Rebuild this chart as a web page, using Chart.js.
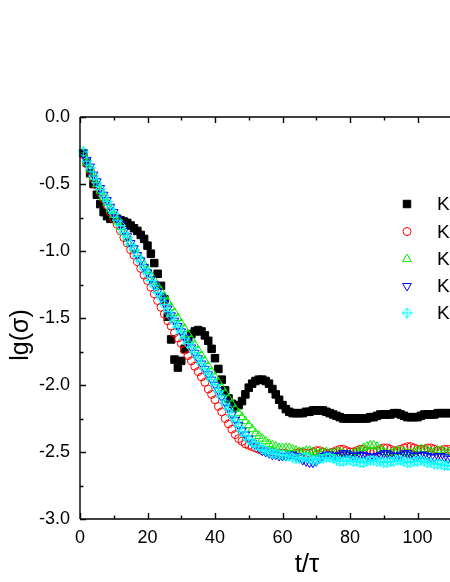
<!DOCTYPE html>
<html><head><meta charset="utf-8">
<script src="https://cdn.jsdelivr.net/npm/chart.js@4.4.0/dist/chart.umd.min.js"></script>
<style>
html,body{margin:0;padding:0;background:#fff;overflow:hidden;}
#wrap{width:450px;height:582px;overflow:hidden;position:relative;background:#fff;}
canvas{display:block;}
</style>
</head><body>
<div id="wrap"><canvas id="c" width="520" height="582" style="width:520px;height:582px"></canvas></div>
<script>
// ---- data ----
const tValues = [
 1,2,3,4,5,6,7,8,9,10,
 11,12,13,14,15,16,17,18,19,20,
 21,22,23,24,25,26,27,28,29,30,
 31,32,33,34,35,36,37,38,39,40,
 41,42,43,44,45,46,47,48,49,50,
 51,52,53,54,55,56,57,58,59,60,
 61,62,63,64,65,66,67,68,69,70,
 71,72,73,74,75,76,77,78,79,80,
 81,82,83,84,85,86,87,88,89,90,
 91,92,93,94,95,96,97,98,99,100,
 101,102,103,104,105,106,107,108,109,110];

const seriesBlack = [
 -0.27,-0.34,-0.42,-0.50,-0.58,-0.65,-0.71,-0.74,-0.76,-0.76,
 -0.76,-0.77,-0.78,-0.79,-0.81,-0.83,-0.85,-0.88,-0.91,-0.96,
 -1.02,-1.09,-1.17,-1.26,-1.36,-1.49,-1.66,-1.81,-1.87,-1.82,
 -1.73,-1.66,-1.62,-1.60,-1.59,-1.60,-1.63,-1.67,-1.73,-1.80,
 -1.88,-1.96,-2.04,-2.10,-2.14,-2.16,-2.15,-2.12,-2.07,-2.02,
 -1.99,-1.97,-1.96,-1.96,-1.97,-1.99,-2.03,-2.07,-2.11,-2.15,
 -2.18,-2.20,-2.21,-2.21,-2.21,-2.21,-2.20,-2.20,-2.19,-2.19,
 -2.19,-2.19,-2.20,-2.21,-2.22,-2.23,-2.24,-2.25,-2.25,-2.25,
 -2.25,-2.25,-2.25,-2.25,-2.25,-2.24,-2.24,-2.23,-2.22,-2.22,
 -2.22,-2.22,-2.21,-2.21,-2.22,-2.23,-2.24,-2.24,-2.24,-2.24,
 -2.23,-2.22,-2.22,-2.22,-2.22,-2.21,-2.21,-2.21,-2.21,-2.21];

const seriesRed = [
 -0.28,-0.35,-0.40,-0.46,-0.51,-0.56,-0.61,-0.66,-0.71,-0.76,
 -0.80,-0.85,-0.90,-0.94,-0.99,-1.03,-1.08,-1.13,-1.18,-1.22,
 -1.27,-1.32,-1.37,-1.42,-1.47,-1.52,-1.56,-1.61,-1.65,-1.69,
 -1.74,-1.78,-1.82,-1.86,-1.90,-1.94,-1.98,-2.03,-2.07,-2.11,
 -2.16,-2.20,-2.25,-2.29,-2.33,-2.37,-2.40,-2.42,-2.44,-2.45,
 -2.46,-2.47,-2.48,-2.49,-2.49,-2.50,-2.50,-2.51,-2.51,-2.51,
 -2.51,-2.52,-2.52,-2.51,-2.50,-2.50,-2.51,-2.51,-2.50,-2.49,
 -2.49,-2.50,-2.51,-2.51,-2.50,-2.49,-2.48,-2.48,-2.49,-2.50,
 -2.50,-2.49,-2.48,-2.48,-2.49,-2.50,-2.50,-2.49,-2.48,-2.47,
 -2.47,-2.48,-2.49,-2.49,-2.48,-2.47,-2.46,-2.46,-2.47,-2.48,
 -2.48,-2.48,-2.47,-2.47,-2.48,-2.49,-2.49,-2.48,-2.48,-2.49];

const seriesGreen = [
 -0.27,-0.34,-0.39,-0.45,-0.50,-0.55,-0.60,-0.64,-0.69,-0.73,
 -0.78,-0.82,-0.86,-0.90,-0.94,-0.98,-1.02,-1.06,-1.10,-1.14,
 -1.18,-1.22,-1.26,-1.30,-1.34,-1.38,-1.42,-1.46,-1.50,-1.54,
 -1.58,-1.62,-1.66,-1.70,-1.74,-1.78,-1.82,-1.86,-1.90,-1.94,
 -1.98,-2.02,-2.06,-2.10,-2.14,-2.18,-2.21,-2.24,-2.27,-2.30,
 -2.33,-2.36,-2.38,-2.40,-2.42,-2.44,-2.45,-2.46,-2.47,-2.47,
 -2.47,-2.47,-2.48,-2.49,-2.50,-2.50,-2.49,-2.49,-2.50,-2.51,
 -2.51,-2.50,-2.50,-2.51,-2.51,-2.50,-2.50,-2.51,-2.52,-2.52,
 -2.51,-2.50,-2.49,-2.47,-2.46,-2.45,-2.45,-2.46,-2.48,-2.50,
 -2.51,-2.51,-2.50,-2.49,-2.49,-2.50,-2.51,-2.51,-2.50,-2.49,
 -2.48,-2.48,-2.49,-2.50,-2.50,-2.49,-2.49,-2.50,-2.50,-2.50];

const seriesBlue = [
 -0.27,-0.32,-0.37,-0.43,-0.48,-0.53,-0.58,-0.62,-0.67,-0.71,
 -0.76,-0.80,-0.85,-0.89,-0.94,-0.98,-1.03,-1.07,-1.12,-1.16,
 -1.21,-1.25,-1.30,-1.34,-1.39,-1.43,-1.48,-1.52,-1.56,-1.60,
 -1.64,-1.68,-1.72,-1.76,-1.80,-1.84,-1.88,-1.92,-1.96,-2.00,
 -2.04,-2.09,-2.13,-2.17,-2.22,-2.26,-2.30,-2.34,-2.37,-2.40,
 -2.43,-2.45,-2.47,-2.49,-2.50,-2.51,-2.52,-2.52,-2.53,-2.53,
 -2.53,-2.52,-2.52,-2.53,-2.54,-2.56,-2.57,-2.58,-2.58,-2.57,
 -2.55,-2.53,-2.52,-2.52,-2.53,-2.53,-2.52,-2.51,-2.51,-2.52,
 -2.53,-2.53,-2.52,-2.52,-2.53,-2.54,-2.54,-2.53,-2.52,-2.51,
 -2.51,-2.52,-2.53,-2.53,-2.52,-2.51,-2.51,-2.52,-2.53,-2.53,
 -2.52,-2.52,-2.53,-2.54,-2.54,-2.53,-2.53,-2.54,-2.55,-2.55];

const seriesCyan = [
 -0.26,-0.33,-0.38,-0.44,-0.49,-0.54,-0.59,-0.63,-0.68,-0.72,
 -0.77,-0.81,-0.86,-0.90,-0.95,-0.99,-1.04,-1.08,-1.13,-1.17,
 -1.22,-1.26,-1.31,-1.35,-1.40,-1.45,-1.49,-1.53,-1.57,-1.61,
 -1.65,-1.69,-1.72,-1.76,-1.80,-1.84,-1.88,-1.92,-1.96,-2.00,
 -2.05,-2.09,-2.14,-2.18,-2.23,-2.27,-2.31,-2.35,-2.38,-2.41,
 -2.43,-2.45,-2.46,-2.48,-2.49,-2.50,-2.51,-2.51,-2.52,-2.52,
 -2.53,-2.53,-2.54,-2.55,-2.55,-2.54,-2.54,-2.55,-2.56,-2.56,
 -2.55,-2.55,-2.54,-2.54,-2.55,-2.56,-2.57,-2.57,-2.56,-2.56,
 -2.57,-2.57,-2.58,-2.58,-2.57,-2.56,-2.56,-2.57,-2.57,-2.58,
 -2.58,-2.57,-2.57,-2.56,-2.56,-2.57,-2.58,-2.58,-2.57,-2.57,
 -2.56,-2.57,-2.58,-2.58,-2.59,-2.59,-2.59,-2.60,-2.60,-2.61];

const seriesLabels = ['K','K','K','K','K'];
const xTitle = 't/\u03C4';
const yTitle = 'lg(\u03C3)';

// ---- marker for cyan series ----
function makeCrossDiamond(color){
  const s = 11;
  const cv = document.createElement('canvas');
  cv.width = s; cv.height = s;
  const g = cv.getContext('2d');
  g.strokeStyle = color; g.lineWidth = 1;
  g.beginPath();
  g.moveTo(5.5,0.5); g.lineTo(10.5,5.5); g.lineTo(5.5,10.5); g.lineTo(0.5,5.5); g.closePath();
  g.moveTo(5.5,0.5); g.lineTo(5.5,10.5);
  g.moveTo(0.5,5.5); g.lineTo(10.5,5.5);
  g.stroke();
  return cv;
}
const cyanMarker = makeCrossDiamond('#00ffff');

function pts(arr){ return tValues.map((t,i)=>({x:t,y:arr[i]})); }

const FONT = "'Liberation Sans', Arial, sans-serif";

const styles = [
  {data:seriesBlack, pointStyle:'rect', radius:5.3, rotation:0, border:'#000000', bg:'#000000', bw:1, order:4},
  {data:seriesRed, pointStyle:'circle', radius:4, rotation:0, border:'#ff0000', bg:'rgba(0,0,0,0)', bw:1, order:3},
  {data:seriesGreen, pointStyle:'triangle', radius:5, rotation:0, border:'#00ee00', bg:'rgba(0,0,0,0)', bw:1, order:2},
  {data:seriesBlue, pointStyle:'triangle', radius:5, rotation:180, border:'#0000ff', bg:'rgba(0,0,0,0)', bw:1, order:1},
  {data:seriesCyan, pointStyle:cyanMarker, radius:5, rotation:0, border:'#00ffff', bg:'rgba(0,0,0,0)', bw:1, order:0}
];

const datasets = styles.map((s,i)=>({
  label: seriesLabels[i],
  data: pts(s.data),
  showLine: false,
  pointStyle: s.pointStyle,
  pointRadius: s.radius,
  pointRotation: s.rotation,
  pointBorderColor: s.border,
  pointBackgroundColor: s.bg,
  pointBorderWidth: s.bw,
  pointHoverRadius: s.radius,
  order: s.order,
  clip: false
}));

const framePlugin = {
  id:'frame',
  afterDatasetsDraw(chart){
    const ctx = chart.ctx, a = chart.chartArea;
    const xs = chart.scales.x, ys = chart.scales.y;
    ctx.save();
    ctx.strokeStyle = '#000'; ctx.lineWidth = 1.4; ctx.lineCap='butt';
    ctx.beginPath();
    ctx.moveTo(a.left, a.top); ctx.lineTo(a.left, a.bottom);
    ctx.moveTo(a.left, a.bottom); ctx.lineTo(a.right, a.bottom);
    ctx.moveTo(a.left, a.top); ctx.lineTo(a.right, a.top);
    ctx.moveTo(a.right, a.top); ctx.lineTo(a.right, a.bottom);
    for (let v = 0; v <= xs.max + 1e-9; v += 10){
      const px = Math.round(xs.getPixelForValue(v)) + 0.5;
      const len = (v % 20 === 0) ? 6 : 3.5;
      ctx.moveTo(px, a.bottom); ctx.lineTo(px, a.bottom - len);
      ctx.moveTo(px, a.top); ctx.lineTo(px, a.top + len);
    }
    for (let k = 0; k <= 12; k++){
      const v = -3 + k*0.25;
      const py = Math.round(ys.getPixelForValue(v)) + 0.5;
      const len = (k % 2 === 0) ? 6 : 3.5;
      ctx.moveTo(a.left, py); ctx.lineTo(a.left + len, py);
      ctx.moveTo(a.right, py); ctx.lineTo(a.right - len, py);
    }
    ctx.stroke();

    ctx.fillStyle = '#000';
    ctx.textAlign = 'center'; ctx.textBaseline = 'middle';
    ctx.font = '26px ' + FONT;
    ctx.fillText(xTitle, 307, 565);
    ctx.save();
    ctx.translate(21, 335);
    ctx.rotate(-Math.PI/2);
    ctx.font = '25px ' + FONT;
    ctx.fillText(yTitle, 0, 0);
    ctx.restore();

    const rowY = [204, 231.5, 259, 286, 313];
    ctx.font = '19px ' + FONT;
    ctx.textAlign = 'left';
    styles.forEach((s,i)=>{
      ctx.strokeStyle = s.border; ctx.fillStyle = s.bg; ctx.lineWidth = s.bw;
      Chart.helpers.drawPoint(ctx, {pointStyle:s.pointStyle, radius:s.radius, rotation:s.rotation, borderWidth:s.bw}, 407, rowY[i]);
      ctx.fillStyle = '#000';
      ctx.fillText(seriesLabels[i], 437, rowY[i] + 1);
    });
    ctx.restore();
  }
};

new Chart(document.getElementById('c'), {
  type:'scatter',
  data:{datasets},
  options:{
    responsive:false,
    animation:false,
    events:[],
    layout:{padding:{left:0, top:117, right:35, bottom:0}},
    plugins:{legend:{display:false}, tooltip:{enabled:false}},
    scales:{
      x:{
        type:'linear', min:0, max:120,
        grid:{display:false, drawTicks:false},
        border:{display:false},
        ticks:{stepSize:20, padding:8, color:'#000', font:{family:FONT, size:18}, maxRotation:0,
               callback:(v)=>String(v)},
        afterFit(s){ s.height = 63; }
      },
      y:{
        type:'linear', min:-3, max:0,
        grid:{display:false, drawTicks:false},
        border:{display:false},
        ticks:{stepSize:0.5, padding:10, color:'#000', font:{family:FONT, size:18},
               callback:(v)=>Number(v).toFixed(1)},
        afterFit(s){ s.width = 80; }
      }
    }
  },
  plugins:[framePlugin]
});
</script>
</body></html>
